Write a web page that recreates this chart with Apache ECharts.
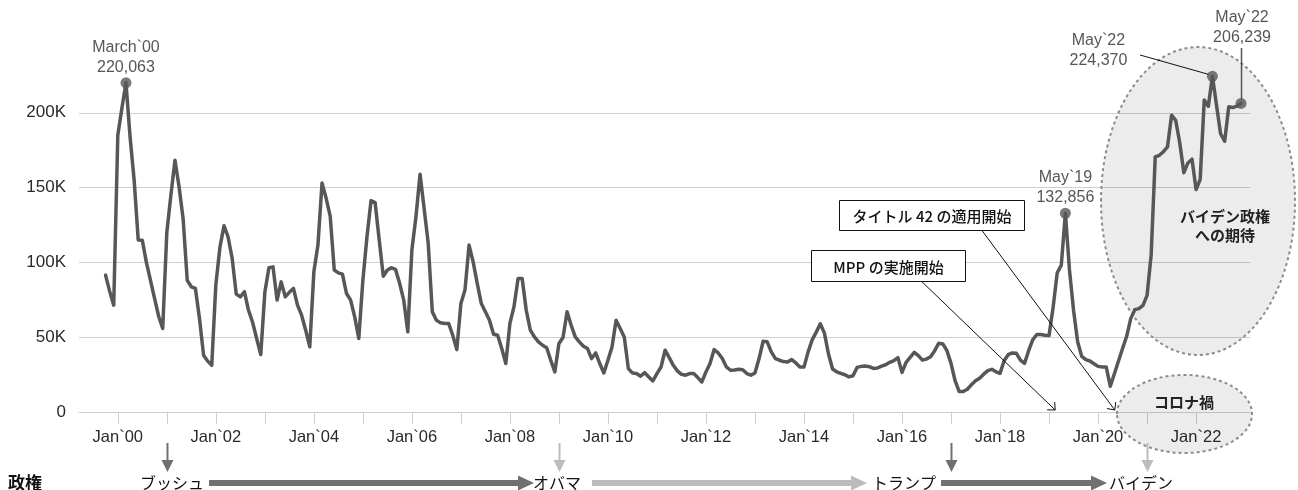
<!DOCTYPE html>
<html>
<head>
<meta charset="utf-8">
<script src="https://cdn.jsdelivr.net/npm/echarts@6/dist/echarts.min.js"></script>
<style>
  html, body { margin: 0; padding: 0; background: #ffffff; }
  #chart { width: 1298px; height: 490px; }
</style>
</head>
<body>
<div id="chart"></div>
<script>
// Monthly southwest border apprehensions, Oct 1999 – Dec 2022
const y1999 = [91500, 80800, 71400]; // Oct–Dec
const y2000 = [185000, 203000, 220063, 184000, 155000, 115000, 114800, 100000, 88000, 76000, 64000, 55800];
const y2001 = [120000, 145000, 168300, 150600, 129000, 88000, 83700, 82600, 62500, 38000, 34000, 31200];
const y2002 = [85000, 110000, 124500, 117000, 102700, 78800, 77000, 80400, 68000, 60000, 49000, 38400];
const y2003 = [80000, 96400, 97000, 74800, 87000, 77000, 80000, 82600, 71400, 64700, 54700, 43500];
const y2004 = [93700, 111600, 153000, 143000, 131000, 94900, 93000, 92200, 79200, 74800, 63600, 49100];
const y2005 = [88000, 117000, 141300, 140000, 115000, 90800, 94900, 96400, 95300, 86000, 74800, 53600];
const y2006 = [108300, 130600, 158900, 136000, 112700, 67000, 61400, 59600, 59200, 59200, 51300, 41700];
const y2007 = [72500, 81500, 111600, 100400, 86000, 72500, 67000, 61400, 52000, 51300, 42400, 32400];
const y2008 = [59200, 70400, 89300, 89300, 68000, 54700, 50200, 46900, 44600, 43000, 34600, 26800];
const y2009 = [45800, 49800, 67000, 58000, 50200, 46900, 44000, 42400, 35700, 39500, 32400, 26100];
const y2010 = [34600, 43500, 61400, 55800, 50200, 29000, 26100, 25700, 23900, 26300, 23400, 20800];
const y2011 = [25700, 30100, 41300, 36400, 31200, 27500, 25200, 24600, 25700, 25700, 23000, 20100];
const y2012 = [26800, 32400, 41700, 39500, 35700, 30100, 27900, 28100, 28600, 28300, 25700, 24600];
const y2013 = [26100, 35700, 47300, 46900, 40200, 35700, 34600, 33700, 33500, 35000, 32800, 30100];
const y2014 = [30000, 40000, 48200, 53400, 59000, 52700, 38800, 28700, 26900, 25800, 24900, 23500];
const y2015 = [24200, 29800, 30500, 30700, 30300, 29100, 29400, 30700, 31600, 33200, 34300, 36300];
const y2016 = [26500, 33200, 36500, 39900, 37700, 34700, 35400, 37000, 41000, 46000, 45500, 41000];
const y2017 = [32500, 20900, 13700, 13700, 15200, 18200, 20900, 22600, 25300, 27600, 28500, 26900];
const y2018 = [25800, 34300, 38300, 39500, 39200, 34700, 32500, 41000, 48200, 51800, 51800, 51300];
const y2019 = [51100, 70000, 93000, 98200, 132856, 95000, 68000, 47000, 37200, 35000, 34100, 32300];
const y2020 = [30500, 30100, 30100, 17200, 25600, 34100, 42400, 50600, 62400, 68400, 69100, 71300];
const y2021 = [78000, 105000, 170500, 171600, 174000, 177200, 198400, 195000, 180000, 160000, 166500, 169000];
const y2022 = [148700, 155500, 208500, 204400, 224370, 205000, 186000, 181000, 204000, 203500, 204500, 206239];

const apprehensions = [].concat(y1999, y2000, y2001, y2002, y2003, y2004, y2005, y2006,
  y2007, y2008, y2009, y2010, y2011, y2012, y2013, y2014, y2015, y2016, y2017, y2018,
  y2019, y2020, y2021, y2022);
const firstMonthOffset = -3; // Oct 1999, counted in months from Jan 2000

// Axis ticks (every January) and labels (every other January)
const yearTickMonths = [0, 12, 24, 36, 48, 60, 72, 84, 96, 108, 120, 132, 144, 156, 168, 180, 192, 204, 216, 228, 240, 252, 264];
const tickLabelMonths = [0, 24, 48, 72, 96, 120, 144, 168, 192, 216, 240, 264];
const tickLabels = ['Jan`00', 'Jan`02', 'Jan`04', 'Jan`06', 'Jan`08', 'Jan`10', 'Jan`12', 'Jan`14', 'Jan`16', 'Jan`18', 'Jan`20', 'Jan`22'];

// Highlighted months
const highlightMonths = [2, 232, 268, 275];
const highlightLabels = ['March`00', 'May`19', 'May`22', 'May`22'];

// Administrations and the month each took office
const adminNames = ['ブッシュ', 'オバマ', 'トランプ', 'バイデン'];
const adminStartMonths = [12, 108, 204, 252];

const points = apprehensions.map((v, i) => [i + firstMonthOffset, v]);
const valueAt = m => apprehensions[m - firstMonthOffset];
const fmt = v => v.toLocaleString('en-US');

const LATIN = '"Liberation Sans", Arial, sans-serif';
const CJK = '"Noto Sans CJK JP", sans-serif';
const LINE_COLOR = '#575757';

const labelOffsets = [[0, 0], [0, 0], [-114, 0], [1, -50]];

const chart = echarts.init(document.getElementById('chart'), null, { renderer: 'canvas' });

chart.setOption({
  animation: false,
  backgroundColor: '#ffffff',
  grid: { left: 79, right: 48, top: 38, bottom: 78, containLabel: false },
  xAxis: {
    type: 'value',
    min: -9.5,
    max: 277.2,
    splitLine: { show: false },
    axisLine: { show: true, lineStyle: { color: '#cfcfcf', width: 1 } },
    axisTick: { show: true, length: 12, customValues: yearTickMonths, lineStyle: { color: '#cfcfcf', width: 1 } },
    axisLabel: {
      customValues: tickLabelMonths,
      formatter: v => tickLabels[tickLabelMonths.indexOf(v)] || '',
      margin: 17,
      color: '#2a2a2a',
      fontFamily: LATIN,
      fontSize: 16.5
    }
  },
  yAxis: {
    type: 'value',
    min: 0,
    max: 250000,
    interval: 50000,
    axisLine: { show: false },
    axisTick: { show: false },
    splitLine: { show: true, showMaxLine: false, lineStyle: { color: '#cfcfcf', width: 1 } },
    axisLabel: {
      showMaxLabel: false,
      margin: 13,
      color: '#2a2a2a',
      fontFamily: LATIN,
      fontSize: 17,
      formatter: v => (v === 0 ? '0' : (v / 1000) + 'K')
    }
  },
  series: [
    {
      type: 'line',
      data: points,
      showSymbol: false,
      smooth: false,
      z: 3,
      lineStyle: { color: LINE_COLOR, width: 3.5, join: 'round', cap: 'round' }
    },
    {
      type: 'scatter',
      z: 4,
      symbol: 'circle',
      symbolSize: 11,
      itemStyle: { color: LINE_COLOR },
      data: highlightMonths.map((m, i) => ({
        value: [m, valueAt(m)],
        label: {
          show: true,
          position: 'top',
          distance: 0,
          offset: labelOffsets[i],
          formatter: highlightLabels[i] + '\n' + fmt(valueAt(m)),
          fontFamily: LATIN,
          fontSize: 16,
          lineHeight: 20,
          color: '#2a2a2a',
          align: 'center'
        }
      }))
    }
  ]
});

// Annotation layer: ellipses, callout boxes, leader lines and the administration timeline
const px = (m, v) => chart.convertToPixel({ xAxisIndex: 0, yAxisIndex: 0 }, [m, v]);

function arrowHead(fx, fy, tx, ty, size, half) {
  const a = Math.atan2(ty - fy, tx - fx) + Math.PI;
  return [
    [tx + size * Math.cos(a - half), ty + size * Math.sin(a - half)],
    [tx, ty],
    [tx + size * Math.cos(a + half), ty + size * Math.sin(a + half)]
  ];
}

const g = [];

// Shaded regions
g.push({
  type: 'ellipse', z: 1, silent: true,
  shape: { cx: 1198, cy: 201, rx: 97, ry: 154 },
  style: { fill: 'rgba(0,0,0,0.075)', stroke: '#8c8c8c', lineWidth: 2, lineDash: [3, 3] }
});
g.push({
  type: 'ellipse', z: 1, silent: true,
  shape: { cx: 1184.5, cy: 414, rx: 67.5, ry: 39 },
  style: { fill: 'rgba(0,0,0,0.075)', stroke: '#8c8c8c', lineWidth: 2, lineDash: [3, 3] }
});
g.push({
  type: 'text', z: 10, silent: true,
  style: { text: 'バイデン政権\nへの期待', x: 1225, y: 226, align: 'center', verticalAlign: 'middle',
    font: 'bold 15px ' + CJK, lineHeight: 19, fill: '#222' }
});
g.push({
  type: 'text', z: 10, silent: true,
  style: { text: 'コロナ禍', x: 1184, y: 402, align: 'center', verticalAlign: 'middle',
    font: 'bold 15px ' + CJK, fill: '#222' }
});

// Callout boxes with arrows
const callouts = [
  { text: 'タイトル 42 の適用開始', box: [839.5, 200.5, 185, 30], from: [982, 230.5], toMonth: 244.1 },
  { text: 'MPP の実施開始', box: [811.5, 250.5, 154, 31], from: [921.7, 281.5], toMonth: 229.5 }
];
callouts.forEach(c => {
  const tip = px(c.toMonth, 0);
  const tx = tip[0], ty = tip[1] - 2;
  g.push({ type: 'line', z: 6, silent: true,
    shape: { x1: c.from[0], y1: c.from[1], x2: tx, y2: ty },
    style: { stroke: '#111', lineWidth: 1 } });
  g.push({ type: 'polyline', z: 6, silent: true,
    shape: { points: arrowHead(c.from[0], c.from[1], tx, ty, 8, Math.PI / 4.2) },
    style: { stroke: '#111', lineWidth: 1, fill: null } });
  g.push({ type: 'rect', z: 7, silent: true,
    shape: { x: c.box[0], y: c.box[1], width: c.box[2], height: c.box[3] },
    style: { fill: '#ffffff', stroke: '#111', lineWidth: 1 } });
  g.push({ type: 'text', z: 8, silent: true,
    style: { text: c.text, x: c.box[0] + c.box[2] / 2, y: c.box[1] + c.box[3] / 2 + 1,
      align: 'center', verticalAlign: 'middle', font: '500 15px ' + CJK, fill: '#111' } });
});

// Leader lines for the two May`22 labels
const pMayPeak = px(268, valueAt(268));
g.push({ type: 'line', z: 6, silent: true,
  shape: { x1: 1140, y1: 55, x2: pMayPeak[0] - 4, y2: pMayPeak[1] - 2 },
  style: { stroke: '#111', lineWidth: 1 } });
const pLast = px(275, valueAt(275));
g.push({ type: 'line', z: 6, silent: true,
  shape: { x1: pLast[0] + 0.5, y1: 48, x2: pLast[0] + 0.5, y2: pLast[1] - 4 },
  style: { stroke: '#555', lineWidth: 1.5 } });

// Administration timeline
const DARK = '#707070', LIGHT = '#bcbcbc';
const adminColors = [DARK, LIGHT, DARK, LIGHT];
const adminNameX = [172, 557, 904, 1141];
const timelineY = 483;
adminStartMonths.forEach((m, i) => {
  const x = Math.round(px(m, 0)[0]) + 0.5;
  g.push({ type: 'line', z: 5, silent: true,
    shape: { x1: x, y1: 443, x2: x, y2: 462 },
    style: { stroke: adminColors[i], lineWidth: 2 } });
  g.push({ type: 'polygon', z: 5, silent: true,
    shape: { points: [[x - 6, 460], [x + 6, 460], [x, 472]] },
    style: { fill: adminColors[i] } });
  g.push({ type: 'text', z: 5, silent: true,
    style: { text: adminNames[i], x: adminNameX[i], y: timelineY, align: 'center', verticalAlign: 'middle',
      font: '16px ' + CJK, fill: '#111' } });
});
g.push({ type: 'text', z: 5, silent: true,
  style: { text: '政権', x: 25, y: timelineY, align: 'center', verticalAlign: 'middle',
    font: 'bold 17px ' + CJK, fill: '#111' } });

// Horizontal arrows between administrations
const spans = [[209, 534, DARK], [592, 867, LIGHT], [941, 1107, DARK]];
spans.forEach(s => {
  const headLen = 16;
  g.push({ type: 'rect', z: 5, silent: true,
    shape: { x: s[0], y: timelineY - 3, width: s[1] - headLen - s[0], height: 6 },
    style: { fill: s[2] } });
  g.push({ type: 'polygon', z: 5, silent: true,
    shape: { points: [[s[1] - headLen, timelineY - 7.5], [s[1], timelineY], [s[1] - headLen, timelineY + 7.5]] },
    style: { fill: s[2] } });
});

chart.setOption({ graphic: { elements: g } });
</script>
</body>
</html>
